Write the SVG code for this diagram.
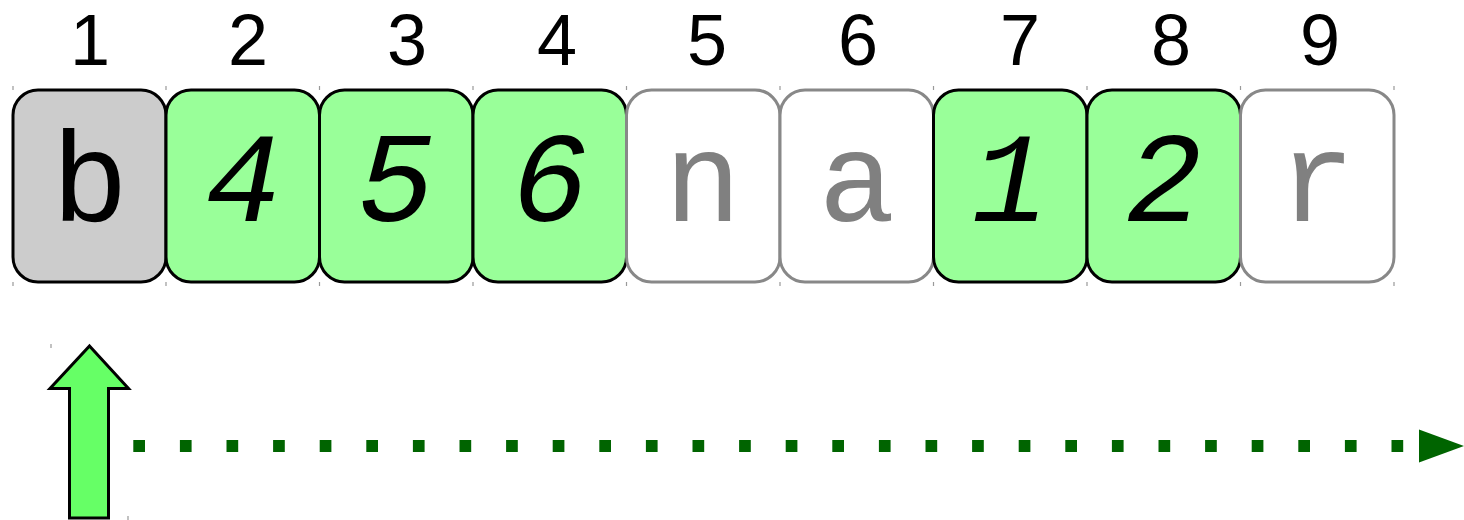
<svg xmlns="http://www.w3.org/2000/svg" width="1464" height="520" viewBox="0 0 1464 520">
<style>
.idx{font-family:"Liberation Sans",Arial,sans-serif;font-size:72px;fill:#000;text-anchor:middle}
.cell{stroke-width:3}
.on{fill:#99ff99;stroke:#000}
.gray{fill:#cccccc;stroke:#000}
.off{fill:#ffffff;stroke:#888888}
.ch{font-family:"Liberation Mono","Courier New",monospace;font-size:128px;text-anchor:middle}
.it{font-style:italic;fill:#000}
.dim{fill:#808080}
.tick{stroke:#999;stroke-width:1.2}
</style>
<rect width="1464" height="520" fill="#fff"/>
<g id="indices">
<text class="idx" x="90" y="65">1</text>
<text class="idx" x="248" y="65">2</text>
<text class="idx" x="407" y="65">3</text>
<text class="idx" x="557" y="65">4</text>
<text class="idx" x="707" y="65">5</text>
<text class="idx" x="858" y="65">6</text>
<text class="idx" x="1020" y="65">7</text>
<text class="idx" x="1171" y="65">8</text>
<text class="idx" x="1320" y="65">9</text>
</g>
<g id="ticks">
<path class="tick" d="M13,86v4M166,86v4M319.5,86v4M473,86v4M626.5,86v4M780,86v4M933.5,86v4M1087,86v4M1240.5,86v4M1394,86v4M13,282v4M166,282v4M319.5,282v4M473,282v4M626.5,282v4M780,282v4M933.5,282v4M1087,282v4M1240.5,282v4M1394,282v4M51,344v4M128,516v4"/>
</g>
<g id="cell1"><rect class="cell gray" x="13" y="90" width="153" height="192" rx="25"/><text class="ch" x="90" y="221" fill="#000">b</text></g>
<g id="cell2"><rect class="cell on" x="166" y="90" width="153.5" height="192" rx="25"/><text class="ch it" x="243" y="221">4</text></g>
<g id="cell3"><rect class="cell on" x="319.5" y="90" width="153.5" height="192" rx="25"/><text class="ch it" x="396" y="221">5</text></g>
<g id="cell4"><rect class="cell on" x="473" y="90" width="153.5" height="192" rx="25"/><text class="ch it" x="550" y="221">6</text></g>
<g id="cell5"><rect class="cell off" x="626.5" y="90" width="153.5" height="192" rx="25"/><text class="ch dim" x="703" y="221">n</text></g>
<g id="cell6"><rect class="cell off" x="780" y="90" width="153.5" height="192" rx="25"/><text class="ch dim" x="857" y="221">a</text></g>
<g id="cell7"><rect class="cell on" x="933.5" y="90" width="153.5" height="192" rx="25"/><text class="ch it" x="1010" y="221">1</text></g>
<g id="cell8"><rect class="cell on" x="1087" y="90" width="153.5" height="192" rx="25"/><text class="ch it" x="1164" y="221">2</text></g>
<g id="cell9"><rect class="cell off" x="1240.5" y="90" width="153.5" height="192" rx="25"/><text class="ch dim" x="1317" y="221">r</text></g>
<g id="pointer">
<polygon points="89.5,346 128.5,388.5 108.5,388.5 108.5,518 69.5,518 69.5,388.5 50,388.5" fill="#66ff66" stroke="#000" stroke-width="3" stroke-linejoin="miter"/>
</g>
<g id="connectors">
<line x1="133.3" y1="446" x2="1419" y2="446" stroke="#006400" stroke-width="12" stroke-dasharray="11.7 34.9"/>
<polygon points="1419,429.5 1464,446 1419,462.5" fill="#006400"/>
</g>
</svg>
